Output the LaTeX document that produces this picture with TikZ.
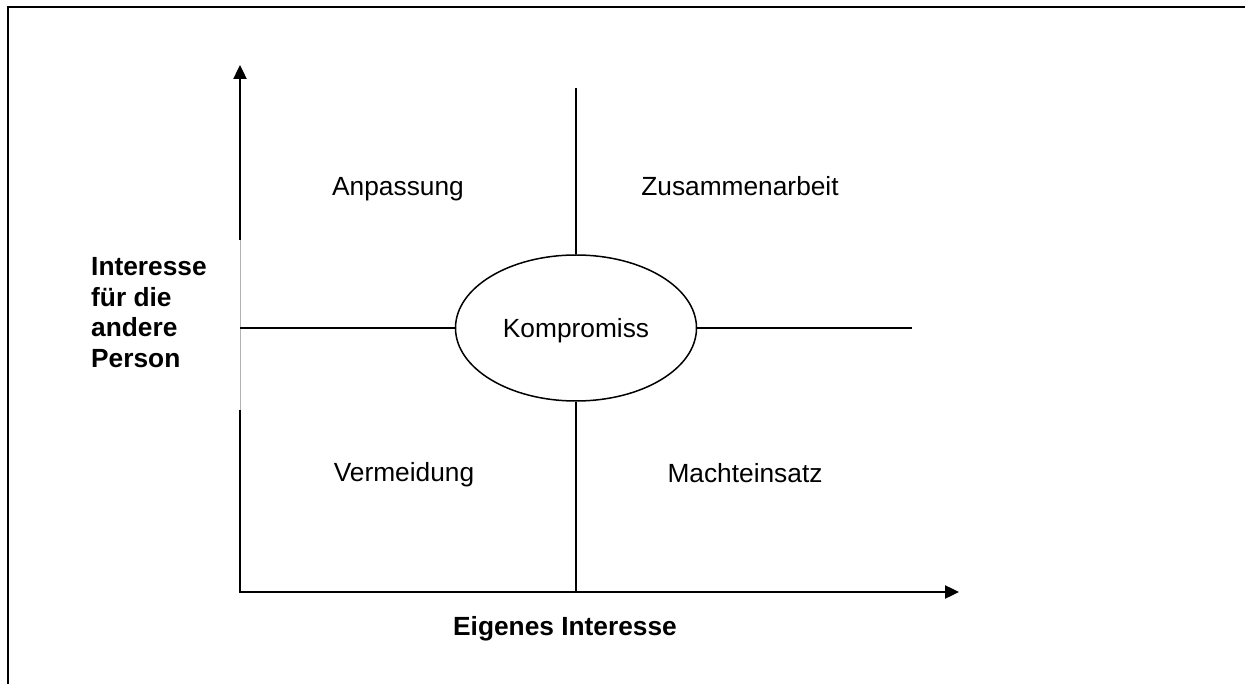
\documentclass[tikz,border=0pt]{standalone}
\usepackage{fontspec}
\setmainfont{Liberation Sans}
\usetikzlibrary{shapes.geometric,arrows.meta}
\begin{document}
\begin{tikzpicture}[x=1pt,y=-1pt,
  frame/.style={line width=2.6pt,black},
  axis/.style={line width=2.4pt,black},
  axisarrow/.style={axis,-{Triangle[length=14pt,width=13pt]}},
  divider/.style={line width=1.5pt,black},
  faint/.style={line width=0.9pt,gray!60},
  lbl/.style={inner sep=0pt,anchor=base,font=\fontsize{26.3}{30.5}\selectfont},
  boldlbl/.style={lbl,font=\fontsize{26.3}{30.5}\selectfont\bfseries}]
  \useasboundingbox (0,0) rectangle (1245,684);
  % page frame (top and left edges)
  \coordinate (fTR) at (1245,7);
  \coordinate (fTL) at (8,7);
  \coordinate (fBL) at (8,684);
  \draw[frame] (fTR) -- (fTL) -- (fBL);

  % axes
  \coordinate (origin) at (240,592);
  \coordinate (yGapLow) at (240,410);
  \coordinate (yGapHigh) at (240,240);
  \coordinate (yTip) at (240,65);
  \coordinate (xTip) at (959,592);
  \draw[axis] (origin) -- (yGapLow);
  \draw[faint] (yGapLow) -- (yGapHigh);
  \draw[axisarrow] (yGapHigh) -- (yTip);
  \draw[axisarrow] ([xshift=-1.2pt]origin) -- (xTip);

  % central compromise ellipse
  \node[ellipse,draw,line width=1.5pt,minimum width=241pt,minimum height=146pt,inner sep=0pt] (komp) at (576,328) {};
  \node[lbl] (kompText) at (576,338) {Kompromiss};

  % quadrant dividers
  \coordinate (divTop) at (576,88);
  \coordinate (divLeft) at (240,328);
  \coordinate (divRight) at (912,328);
  \draw[divider] (divTop) -- (komp.north);
  \draw[divider] (komp.south) -- (origin -| komp.south);
  \draw[divider] (divLeft) -- (komp.west);
  \draw[divider] (komp.east) -- (divRight);

  % quadrant labels
  \node[lbl] (anp) at (398,196) {Anpassung};
  \node[lbl] (zus) at (740,196) {Zusammenarbeit};
  \node[lbl] (verm) at (404,481) {Vermeidung};
  \node[lbl] (macht) at (745,482) {Machteinsatz};

  % axis titles
  \node[boldlbl,anchor=base west] (yTitle) at (91,276)
    {\begin{tabular}[t]{@{}l@{}}Interesse\\für die\\andere\\Person\end{tabular}};
  \node[boldlbl] (xTitle) at (565,635) {Eigenes Interesse};
\end{tikzpicture}
\end{document}
